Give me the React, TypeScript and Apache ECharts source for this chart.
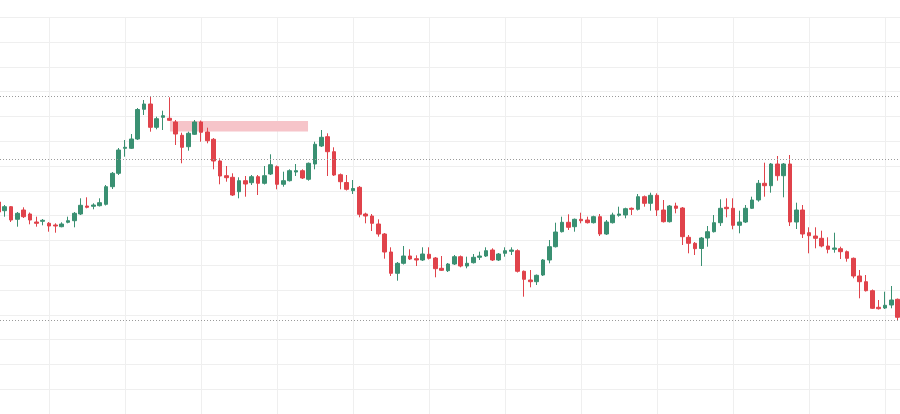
import React, { useEffect, useRef } from "react";
import * as echarts from "echarts";

// Bar index of the first candle on the value x-axis
const FIRST_BAR = 4;

const opens = [
  212, 203.3, 207.3, 194.7, 204, 200, 192, 192.7, 190.7, 189,
  187.3, 191.7, 193.3, 200, 208, 207.7, 208.3, 209.7, 227.3, 240.7,
  265.7, 265.7, 275, 304.7, 310, 286.7, 296.7, 295.7, 292, 278.7,
  267.3, 279.7, 292, 282, 274.7, 253, 238.3, 236.7, 222.3, 233.3,
  231.3, 237.3, 230.7, 240, 247.3, 229.7, 233.3, 242, 243.3, 234.7,
  250, 268, 277.3, 262.3, 239.3, 231.5, 223.3, 226.7, 200, 198,
  190, 180, 162, 140.7, 150.7, 158, 155.3, 154, 159.7, 156,
  145.7, 143.3, 150, 157.3, 148, 151.3, 156.7, 158, 164, 154,
  160.7, 162.7, 163.3, 142.7, 134, 132.3, 139, 154, 167.3, 182.3,
  191.7, 187.3, 194.7, 194, 191.3, 197.3, 180, 191.3, 198.7, 199,
  205.7, 204.7, 217.3, 210.7, 218.7, 204, 192.3, 208, 206, 176.7,
  170.7, 165.5, 176, 182.3, 191.3, 206.7, 205.7, 188.7, 192, 205.7,
  214, 230.7, 228.3, 250, 238.3, 250, 192, 204, 181.3, 178,
  175.7, 168, 164.7, 165.3, 162.3, 155.7, 138, 132.3, 123.3, 106.7,
  106, 109, 114.7,
];

const closes = [
  202, 207.3, 194, 200.7, 197.3, 194, 190.7, 193.7, 188, 188,
  190, 193.3, 200.7, 208.7, 206.7, 209, 211.3, 227.3, 240.7, 264,
  266.7, 275, 304.5, 310, 286.7, 295.3, 298.3, 293.7, 280, 266.7,
  280.7, 292, 281.7, 273.3, 253, 238, 236.3, 219, 233.3, 230,
  237.3, 230.7, 238.3, 249.3, 229.7, 233.3, 243.3, 243.3, 236, 250.7,
  269.7, 276.7, 262.3, 239, 232.3, 224.7, 225.5, 199.7, 198, 190.7,
  180, 162, 140.7, 150.7, 158, 155, 154, 160, 155.7, 145.3,
  143.7, 150, 157.3, 148, 150.7, 156.7, 158, 163.3, 154, 160,
  163.3, 164, 142.7, 134.7, 132.3, 138.7, 154, 167.3, 182, 191.7,
  186.7, 194.7, 193.3, 191.3, 197.3, 180, 192, 199, 200, 205.3,
  204.7, 217.3, 210.7, 218.7, 204, 192.3, 208, 205.7, 177.3, 170.7,
  165.3, 176, 182.3, 191.3, 205.7, 205.3, 188.7, 192, 205.7, 214,
  230.7, 228.3, 250, 238.3, 250, 192, 204, 180, 178.3, 175.7,
  168, 164.7, 166, 162.3, 155.7, 138, 132.3, 123.3, 105.7, 105.3,
  108.7, 114, 96.7,
];

const lows = [
  200, 197.3, 192, 187.3, 196, 189.7, 187.3, 188.7, 182.3, 181.3,
  186.7, 190.7, 186.7, 199, 205.7, 204.7, 207.5, 208.5, 225, 239,
  257.3, 265, 274, 299, 282.3, 284.7, 284, 293, 269, 250.7,
  263.3, 279, 272.3, 270.7, 244.7, 229.7, 232.3, 218, 215.7, 217.3,
  229, 219, 229.5, 239, 224.7, 227.3, 232.5, 238, 235, 233.3,
  244.7, 267, 238, 238, 224.7, 223.5, 220, 196.7, 190.7, 183,
  177.3, 155.3, 138, 133.3, 149.5, 154, 148, 153, 154.5, 136.7,
  143, 142, 149, 146.7, 145.7, 150.5, 154, 157, 153, 153,
  157.3, 159, 141.5, 117.3, 126.7, 129, 138, 150.7, 166.5, 181.5,
  184, 182.3, 190.7, 190.5, 190.5, 178, 179, 190.5, 197.3, 195.7,
  199, 203.5, 207.3, 203.3, 198, 191.5, 191.5, 200.7, 169, 160.7,
  159, 148, 167.3, 181.5, 188, 196.7, 184.7, 180.7, 191, 205,
  212.3, 217.3, 221.3, 233.3, 216.7, 188, 185, 176, 160.7, 165.7,
  166.7, 160.7, 161.3, 155, 152.3, 135.7, 115.7, 122.5, 105, 104.5,
  105, 105.7, 94,
];

const highs = [
  214, 209, 208, 202, 206.7, 201.5, 197.3, 195, 192, 190.7,
  191.7, 197.3, 202, 215.7, 216.7, 210.7, 215.7, 229, 242, 266,
  274, 280, 306, 314, 318, 297.3, 303.3, 316.7, 294, 281.3,
  282.3, 294, 293.5, 286.3, 276, 255.7, 248, 240.7, 236.7, 238,
  239, 239, 248, 259.7, 248.5, 242.3, 244.7, 250, 244.7, 251.5,
  272.3, 284, 280.7, 266.7, 240.5, 239, 234, 228, 201.3, 200,
  194.7, 181, 166.7, 152, 168, 164.7, 158.7, 166.7, 166.7, 157,
  158, 151, 159, 158.5, 157.3, 160, 162.3, 166.7, 165.7, 161,
  166.7, 166.7, 164.7, 143.5, 144, 139.5, 155, 174, 191.3, 197.3,
  199.7, 195.5, 201.3, 197.3, 198.3, 200, 194, 201.3, 207.3, 206.3,
  206.5, 220, 218.5, 221.3, 220.7, 214, 209, 211.3, 207, 179,
  172, 177, 188, 199, 214.7, 215.7, 215.7, 203.3, 209, 217.3,
  234, 251.3, 251, 258, 251, 259, 211.3, 209, 186.7, 186.7,
  183.3, 176.7, 181.3, 167.3, 163.5, 156.5, 144, 139, 124.5, 114,
  122.3, 128, 115.5,
];

// Dotted horizontal reference levels
const refLevels = [317.5, 255, 93.5];

// Highlighted zone (bar range and price range)
const zoneBars = [31.1, 52.9];
const zonePrices = [293, 282.5];

// Visible bar window and vertical grid step (in bars)
const BAR_MIN = 4.263;
const BAR_MAX = 146.368;
const GRID_STEP = 12;

const UP = "#3a9072";
const DOWN = "#e0434b";
const GRID = "#efefef";

export default function App() {
  const ref = useRef<HTMLDivElement>(null);

  useEffect(() => {
    if (!ref.current) return;
    const chart = echarts.init(ref.current, null, { renderer: "svg" });
    const data = opens.map((o, i) => [i + FIRST_BAR, o, closes[i], lows[i], highs[i]]);

    const hidden = {
      axisLine: { show: false },
      axisTick: { show: false },
      axisLabel: { show: false },
    };

    chart.setOption({
      animation: false,
      backgroundColor: "#ffffff",
      grid: [
        { left: 0, right: 0, top: 17.2, bottom: 0, containLabel: false },
        { left: 49, right: 0, top: 17.2, bottom: 0, containLabel: false },
      ],
      xAxis: [
        {
          type: "value",
          gridIndex: 0,
          min: BAR_MIN,
          max: BAR_MAX,
          ...hidden,
          splitLine: { show: false },
        },
        {
          type: "value",
          gridIndex: 1,
          min: 0,
          max: BAR_MAX - (BAR_MIN + 7.737),
          interval: GRID_STEP,
          ...hidden,
          splitLine: { show: true, lineStyle: { color: GRID, width: 1 } },
        },
      ],
      yAxis: [
        {
          type: "value",
          gridIndex: 0,
          min: 0,
          max: 396.8,
          interval: 24.8,
          ...hidden,
          splitLine: { show: true, lineStyle: { color: GRID, width: 1 } },
        },
        {
          type: "value",
          gridIndex: 1,
          min: 0,
          max: 396.8,
          ...hidden,
          splitLine: { show: false },
        },
      ],
      series: [
        {
          type: "candlestick",
          xAxisIndex: 0,
          yAxisIndex: 0,
          dimensions: ["bar", "open", "close", "lowest", "highest"],
          encode: { x: "bar", y: ["open", "close", "lowest", "highest"] },
          data,
          clip: false,
          barWidth: 4,
          itemStyle: {
            color: UP,
            color0: DOWN,
            borderColor: UP,
            borderColor0: DOWN,
            borderWidth: 1,
          },
          markLine: {
            silent: true,
            symbol: ["none", "none"],
            label: { show: false },
            lineStyle: { color: "#9a9a9a", type: [1, 2], width: 1 },
            data: refLevels.map((v) => ({ yAxis: v })),
          },
          markArea: {
            silent: true,
            itemStyle: { color: "#f6c4c9", opacity: 1 },
            data: [
              [
                { coord: [zoneBars[0], zonePrices[0]] },
                { coord: [zoneBars[1], zonePrices[1]] },
              ],
            ],
          },
        },
      ],
    });

    return () => chart.dispose();
  }, []);

  return (
    <div
      ref={ref}
      style={{ position: "fixed", left: 0, top: 0, width: 900, height: 414, background: "#fff" }}
    />
  );
}
